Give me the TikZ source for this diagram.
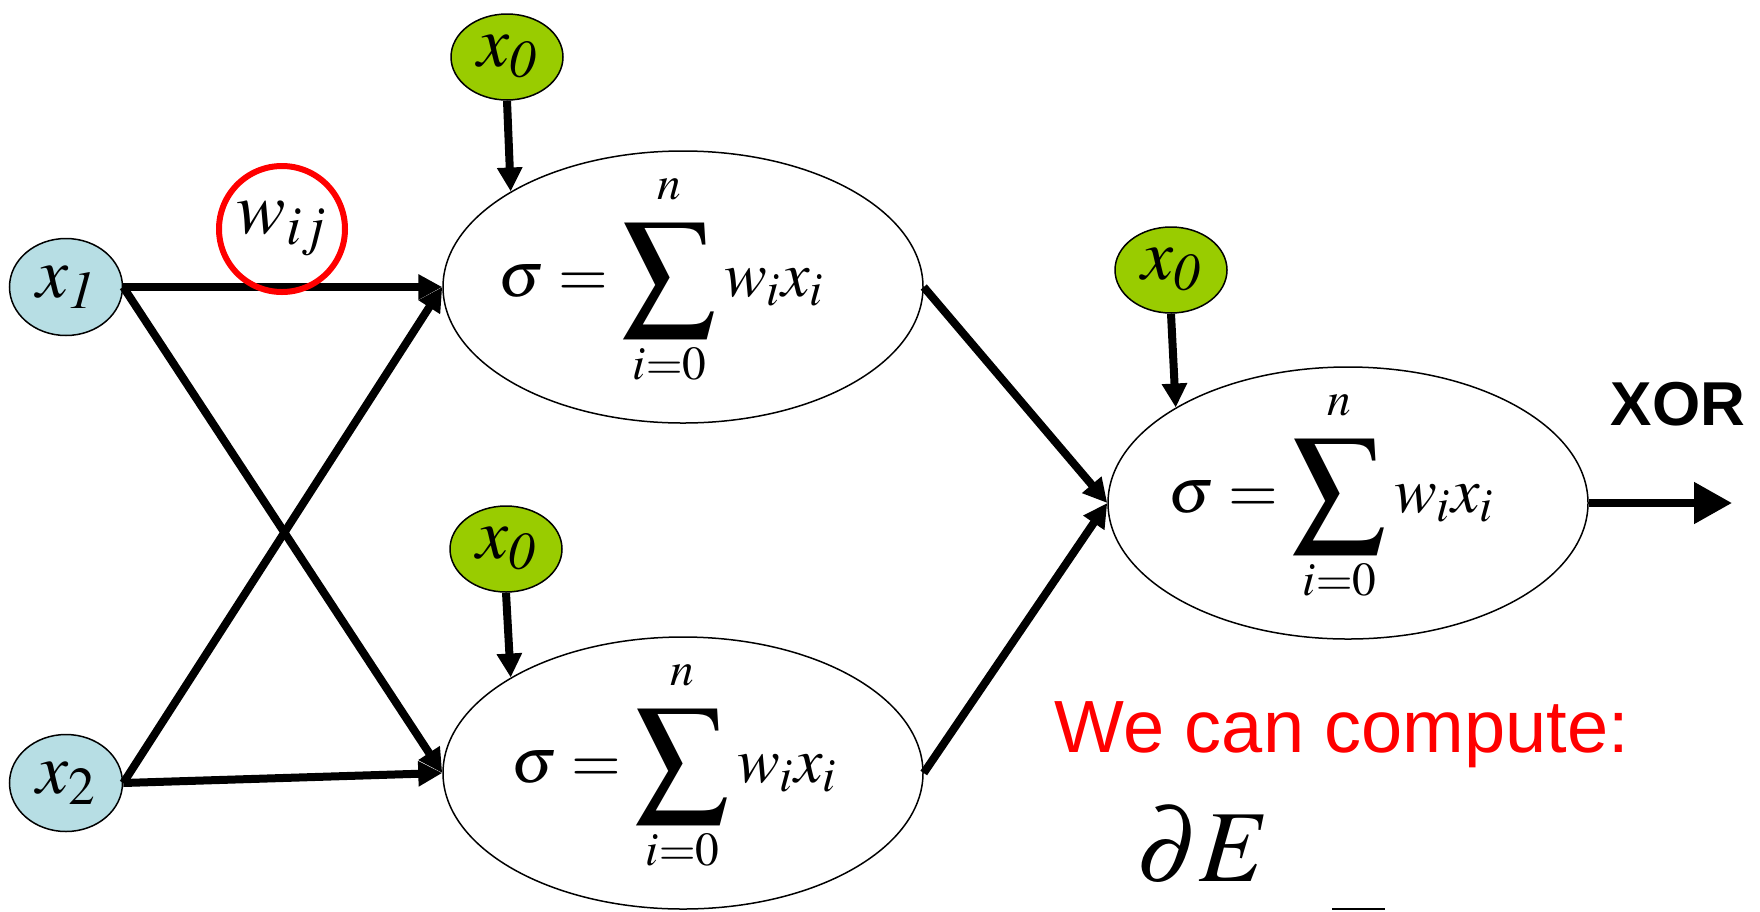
\documentclass[tikz,border=0pt]{standalone}
\usepackage{mathptmx}
\usepackage[no-math]{fontspec}
\setmainfont{Liberation Serif}
\setsansfont{Liberation Sans}
\usetikzlibrary{arrows.meta,shapes.geometric,positioning}
\definecolor{inblue}{RGB}{183,222,228}
\definecolor{biasgreen}{RGB}{153,204,0}
\tikzset{
  inp/.style={ellipse, draw, line width=0.75pt, fill=inblue, minimum width=56.5pt,
              minimum height=48.5pt, inner sep=0pt, font=\fontsize{36}{40}\selectfont},
  bias/.style={ellipse, draw, line width=0.75pt, fill=biasgreen, minimum width=56pt,
               minimum height=43pt, inner sep=0pt, font=\fontsize{36}{40}\selectfont},
  unit/.style={ellipse, draw, line width=0.75pt, minimum width=240pt,
               minimum height=136pt, inner sep=0pt, font=\fontsize{32}{38}\selectfont},
  wire/.style={-{Triangle[length=12pt,width=12pt]}, line width=4pt},
  outwire/.style={-{Triangle[length=19pt,width=20pt]}, line width=4pt},
}
\newcommand{\bigsum}{\mathop{\vcenter{\hbox{\scalebox{1.45}{$\displaystyle\sum$}}}}\limits}
\newcommand{\netsum}[1]{\makebox[0pt]{\raisebox{-4.5pt}[0pt][0pt]{$\sigma = \bigsum_{i=0\rule{0pt}{15pt}}^{n\rule[-8pt]{0pt}{0pt}} w_i x_i$}\hspace*{#1}}}

\begin{document}
\begin{tikzpicture}[x=0.5pt, y=-0.5pt]
\useasboundingbox (0,0) rectangle (1760,911);

% inputs
\node[inp] (x1) at (66,287) {$x_{\mathit{1}}$};
\node[inp] (x2) at (66,783) {$x_2$};

% hidden and output units
\node[unit] (h1) at (683,287) {\netsum{22pt}};
\node[unit] (h2) at (683,773) {\netsum{9pt}};
\node[unit] (out) at (1348,503) {\netsum{17pt}};

% bias inputs
\node[bias] (b1) at (507,57) {$x_{\mathit{0}}$};
\node[bias] (b2) at (506,549) {$x_{\mathit{0}}$};
\node[bias] (b3) at (1171,270) {$x_{\mathit{0}}$};

\draw[wire] (x1.east) -- (h1.west);
\draw[wire] (x1.east) -- (h2.west);
\draw[wire] (x2.east) -- (h1.west);
\draw[wire] (x2.east) -- (h2.west);

\draw[wire] (b1.south) -- (h1.151);
\draw[wire] (b2.south) -- (h2.151);
\draw[wire] (b3.south) -- (out.151);

\draw[wire] (h1.east) -- (out.west);
\draw[wire] (h2.east) -- (out.west);

\coordinate (y) at (1732,503);
\draw[outwire] (out.east) -- (y);
\node[font=\sffamily\bfseries\fontsize{31}{34}\selectfont] (xor) at (1678,404) {XOR};

% weight marker
\node[circle, draw=red, line width=3pt, minimum size=63pt, inner sep=0pt,
      font=\fontsize{37}{40}\selectfont] (w) at (282,229) {$w_{ij}$};

% gradient note
\node[text=red, font=\sffamily\fontsize{37}{40}\selectfont] (note) at (1342,735) {We can compute:};
\node[font=\fontsize{51}{56}\selectfont] (dE) at (1203,845) {$\partial E$};
\draw[line width=1pt] (1332,909) -- (1385,909);

\end{tikzpicture}
\end{document}
